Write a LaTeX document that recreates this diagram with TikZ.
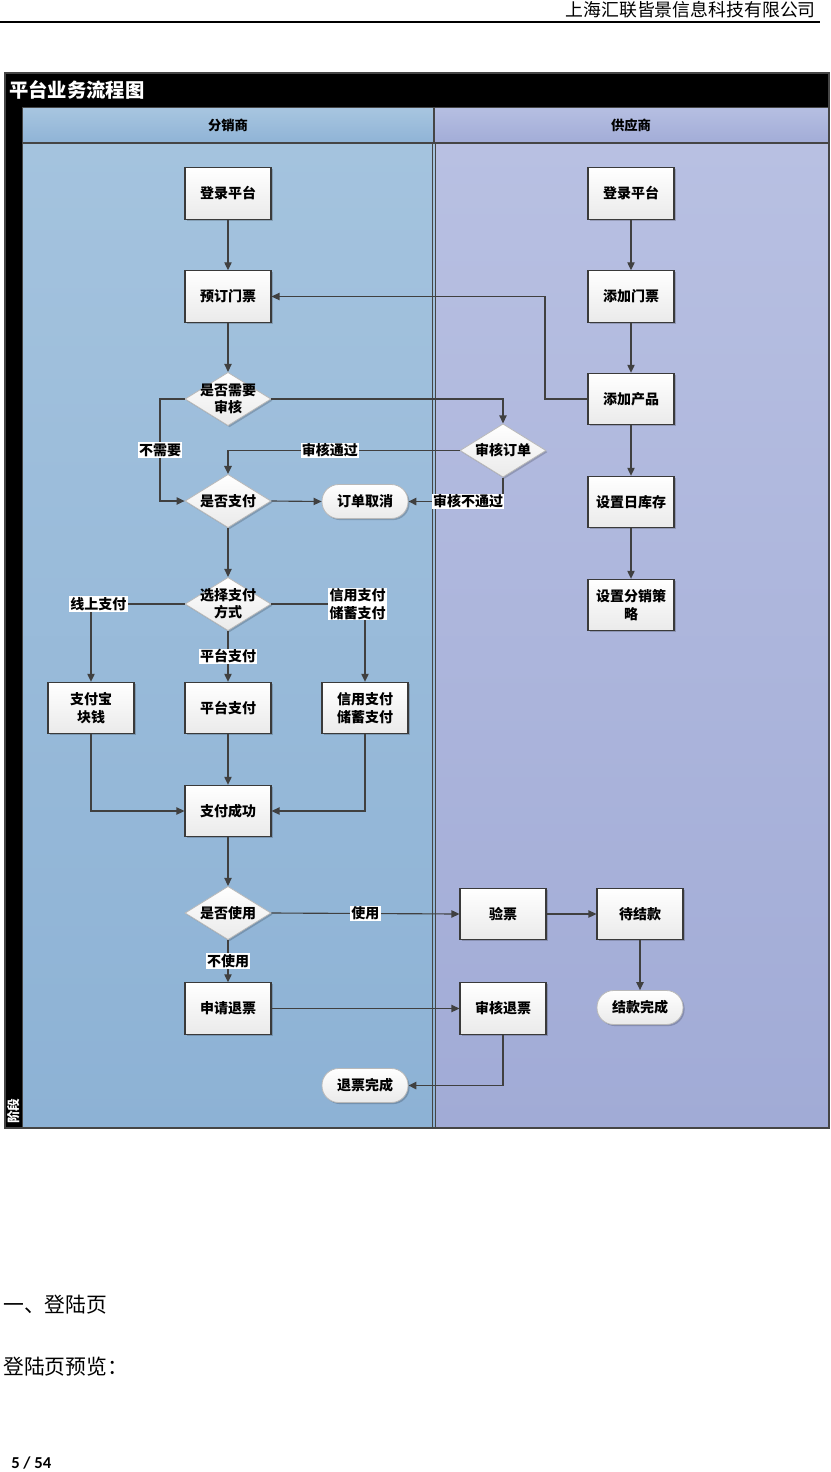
\documentclass[tikz,border=0pt]{standalone}
\usepackage{fontspec}
\setmainfont{Noto Sans CJK SC}
\newfontfamily\latinfont{Carlito}
\usetikzlibrary{shapes.geometric,arrows.meta,shadows}

\definecolor{lineC}{HTML}{404040}
\definecolor{boxC}{HTML}{3A3A3A}
\definecolor{frameC}{HTML}{454545}
\definecolor{laneAtop}{HTML}{A4C3DE}
\definecolor{laneAbot}{HTML}{8DB2D5}
\definecolor{laneBtop}{HTML}{B8C0E2}
\definecolor{laneBbot}{HTML}{A1ABD6}
\definecolor{headAtop}{HTML}{A8C6E0}
\definecolor{headAbot}{HTML}{8FB3D6}
\definecolor{headBtop}{HTML}{B6BFE2}
\definecolor{headBbot}{HTML}{A2ACD7}
\definecolor{shapeBot}{HTML}{EAEAEA}

\tikzset{
  txt/.style={font=\bfseries\fontsize{10.5}{13}\selectfont, align=center},
  shadowed/.style={drop shadow={shadow xshift=1.2pt, shadow yshift=-1.2pt, opacity=0.18, fill=black}},
  proc/.style={rectangle, draw=boxC, line width=0.8pt, top color=white, bottom color=shapeBot,
    minimum width=64.5pt, minimum height=38.5pt, inner sep=1pt, txt, shadowed},
  decision/.style={diamond, draw=gray!55, line width=0.6pt, top color=white, bottom color=shapeBot,
    minimum width=64.5pt, minimum height=40pt, inner sep=0pt, shadowed},
  dtext/.style={txt, inner sep=0pt},
  term/.style={rectangle, rounded corners=12.5pt, draw=gray!55, line width=0.6pt, top color=white,
    bottom color=shapeBot, minimum width=64.5pt, minimum height=25.5pt, inner sep=1pt, txt, shadowed},
  flow/.style={draw=lineC, line width=0.85pt, -{Triangle[length=6pt,width=5.5pt]}},
  flowbold/.style={flow, line width=1.4pt},
  lbl/.style={fill=white, inner sep=0.8pt, txt, text=black},
  lanehead/.style={font=\bfseries\fontsize{10}{12}\selectfont}
}

\begin{document}
\begin{tikzpicture}[x=0.75pt, y=-0.75pt]
\useasboundingbox (0,0) rectangle (831,1472);
\fill[white] (0,0) rectangle (831,1472);

% page header
\node[anchor=east, inner sep=0pt, font=\fontsize{13.4}{15}\selectfont] (company) at (816,10) {上海汇联皆景信息科技有限公司};
\draw[black, line width=1.6pt] (0,22) -- (820,22);

% swimlane frame
\shade[top color=laneAtop, bottom color=laneAbot] (22,143) rectangle (435.5,1128);
\shade[top color=laneBtop, bottom color=laneBbot] (435.5,143) rectangle (829,1128);
\shade[top color=headAtop, bottom color=headAbot] (22,107) rectangle (434,143);
\shade[top color=headBtop, bottom color=headBbot] (434,107) rectangle (829,143);
\draw[frameC, line width=0.9pt] (22,107) rectangle (434,143);
\draw[frameC, line width=0.9pt] (434,107) rectangle (829,143);
\draw[frameC, line width=0.9pt] (22,143) rectangle (432.8,1128);
\draw[frameC, line width=0.9pt] (435.2,143) rectangle (829,1128);
\fill[black] (5,73) rectangle (829,107);
\fill[black] (5,107) rectangle (22,1128);
\draw[frameC, line width=1pt] (5,73) rectangle (829,1128);

\node[anchor=west, text=white, inner sep=0pt, font=\bfseries\fontsize{14.5}{16}\selectfont] (title) at (9,90) {平台业务流程图};
\node[lanehead] (laneA) at (228,125) {分销商};
\node[lanehead] (laneB) at (631,125) {供应商};
\node[rotate=90, text=white, inner sep=0pt, font=\bfseries\fontsize{9.5}{10}\selectfont] (stage) at (13.5,1111) {阶段};

% distributor lane
\node[proc] (loginA) at (228,193.5) {登录平台};
\node[proc] (book) at (228,296.5) {预订门票};
\node[decision, label={[dtext]center:{是否需要\\审核}}] (needAudit) at (228,399) {};
\node[decision, label={[dtext]center:{是否支付}}] (payQ) at (228,501) {};
\node[term] (cancel) at (365,501.5) {订单取消};
\node[decision, label={[dtext]center:{选择支付\\方式}}] (payWay) at (228,604) {};
\node[proc] (alipay) at (91,708) {支付宝\\块钱};
\node[proc] (platPay) at (228,708) {平台支付};
\node[proc] (credit) at (365,708) {信用支付\\储蓄支付};
\node[proc] (paid) at (228,811) {支付成功};
\node[decision, label={[dtext]center:{是否使用}}] (useQ) at (228,913) {};
\node[proc] (refund) at (228,1008.5) {申请退票};
\node[term] (refundDone) at (365,1085.5) {退票完成};

% supplier lane
\node[proc] (loginB) at (631,193.5) {登录平台};
\node[proc] (addTicket) at (631,296.5) {添加门票};
\node[proc] (addProduct) at (631,399) {添加产品};
\node[proc] (stock) at (631,502) {设置日库存};
\node[proc] (policy) at (631,605) {设置分销策\\略};
\node[decision, label={[dtext]center:{审核订单}}] (auditOrder) at (503,450.5) {};
\node[proc] (verify) at (503,914) {验票};
\node[proc] (waitPay) at (640,914) {待结款};
\node[proc] (auditRefund) at (503,1008.5) {审核退票};
\node[term] (settled) at (640,1007.5) {结款完成};

% bend points
\coordinate (noA) at (160,399);
\coordinate (noB) at (160,501);
\coordinate (prodA) at (545,399);
\coordinate (prodB) at (545,296.5);

% connectors
\draw[flow] (loginA) -- (book);
\draw[flow] (book) -- (needAudit);
\draw[flow] (needAudit.east) -| (auditOrder.north);
\draw[flow] (needAudit.west) -- (noA) -- node[lbl]{不需要} (noB) -- (payQ.west);
\draw[flowbold] (auditOrder.west) -| node[lbl, pos=0.28]{审核通过} (payQ.north);
\draw[flowbold] (auditOrder.south) |- node[lbl, pos=0.685]{审核不通过} (cancel.east);
\draw[flow] (payQ.east) -- (cancel.west);
\draw[flow] (payQ) -- (payWay);
\draw[flow] (payWay.west) -| node[lbl, pos=0.46]{线上支付} (alipay.north);
\draw[flow] (payWay.south) -- node[lbl]{平台支付} (platPay.north);
\draw[flow] (payWay.east) -| node[lbl, pos=0.46]{信用支付\\储蓄支付} (credit.north);
\draw[flow] (alipay.south) |- (paid.west);
\draw[flow] (platPay) -- (paid);
\draw[flow] (credit.south) |- (paid.east);
\draw[flow] (paid) -- (useQ);
\draw[flow] (useQ.east) -- node[lbl]{使用} (verify.west);
\draw[flow] (useQ.south) -- node[lbl]{不使用} (refund.north);
\draw[flow] (verify) -- (waitPay);
\draw[flow] (waitPay) -- (settled);
\draw[flow] (refund) -- (auditRefund);
\draw[flowbold] (auditRefund.south) |- (refundDone.east);

\draw[flow] (loginB) -- (addTicket);
\draw[flow] (addTicket) -- (addProduct);
\draw[flow] (addProduct) -- (stock);
\draw[flow] (stock) -- (policy);
\draw[flow] (addProduct.west) -- (prodA) -- (prodB) -- (book.east);

% body text below the chart
\node[anchor=west, inner sep=0pt, font=\fontsize{15.6}{18}\selectfont] (sec) at (3,1305) {一、登陆页};
\node[anchor=west, inner sep=0pt, font=\fontsize{15.6}{18}\selectfont] (preview) at (3,1367) {登陆页预览：};
\node[anchor=west, inner sep=0pt, font=\latinfont\bfseries\fontsize{12.5}{14}\selectfont] (pageno) at (11,1463) {5 / 54};
\end{tikzpicture}
\end{document}
